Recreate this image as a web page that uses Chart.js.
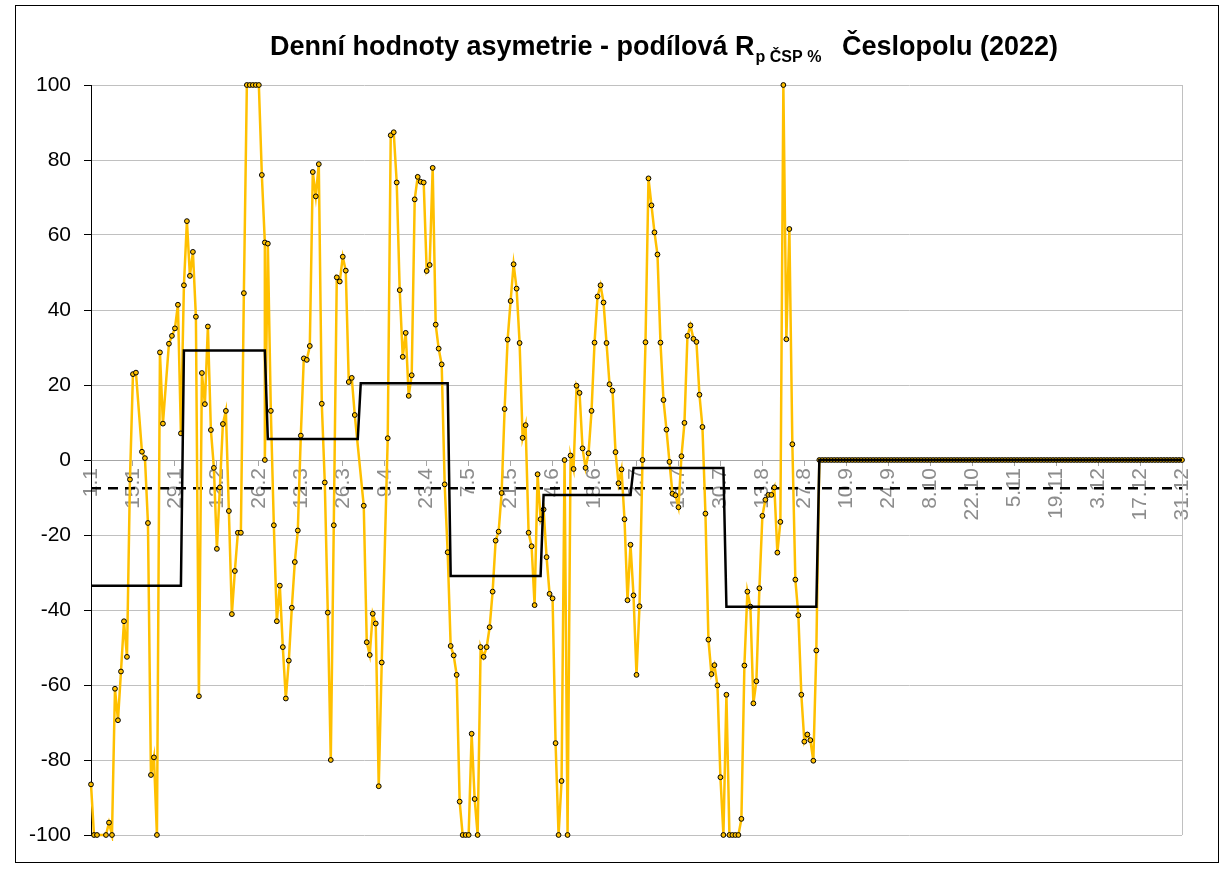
<!DOCTYPE html>
<html>
<head>
<meta charset="utf-8">
<script src="https://cdn.jsdelivr.net/npm/chart.js@4.4.0/dist/chart.umd.min.js"></script>
<style>
  html, body { margin: 0; padding: 0; background: #fff; }
  #wrap { width: 1225px; height: 870px; }
</style>
</head>
<body>
<div id="wrap"><canvas id="graf" width="1225" height="870"></canvas></div>
<script>
// denni hodnoty 2022 po mesicich (null = prazdna bunka, mezera v care)
const janVals = [-86.5, -100, -100, null, null, -100, -96.7, -100, -61, -69.4, -56.4, -43, -52.5, -5.2, 22.9, 23.3,
  null, 2.2, 0.5, -16.8, -84, -79.3, -100, 28.7, 9.7, null, 31, 33.1, 35.1, 41.4, 7.1];
const febVals = [46.6, 63.7, 49.1, 55.5, 38.2, -63, 23.2, 14.9, 35.6, 8, -2.1, -23.7, -7.3, 9.6, 13.1, -13.6,
  -41.1, -29.6, -19.4, -19.4, 44.5, 100, 100, 100, 100, 100, 76, 58];
const marVals = [57.7, 13.1, -17.4, -43, -33.5, -49.9, -63.6, -53.5, -39.4, -27.2, -18.8, 6.5, 27.1, 26.7, 30.4, 76.8,
  70.3, 78.9, 15, -6, -40.7, -80, -17.4, 48.7, 47.6, 54.2, 50.5, 20.8, 21.9, 12, null];
const aprVals = [null, -12.2, -48.6, -52, -41, -43.6, -87, -54, null, 5.8, 86.6, 87.4, 74, 45.3, 27.5, 33.9,
  17.1, 22.6, 69.5, 75.5, 74.2, 74, 50.4, 52, 77.9, 36.1, 29.7, 25.5, -6.5, -24.6];
const mayVals = [-49.6, -52.1, -57.3, -91.1, -100, -100, -100, -73, -90.4, -100, -49.9, -52.5, -49.9, -44.6, -35.1, -21.5,
  -19.1, -8.8, 13.6, 32.1, 42.4, 52.2, 45.7, 31.2, 5.9, 9.3, -19.4, -23, -38.7, -3.8, -15.8];
const junVals = [-13.2, -25.9, -35.7, -36.9, -75.5, -100, -85.6, 0, -100, 1.2, -2.4, 19.8, 17.9, 3.1, -2.1, 1.8,
  13.1, 31.3, 43.6, 46.6, 42, 31.2, 20.2, 18.5, 2.1, -6.2, -2.5, -15.8, -37.4, -22.6];
const julVals = [-36.1, -57.3, -39, 0, 31.4, 75.1, 67.9, 60.7, 54.8, 31.3, 16, 8.1, -0.5, -9, -9.4, -12.6,
  1, 9.9, 33.1, 35.9, 32.3, 31.5, 17.4, 8.8, -14.3, -47.9, -57.1, -54.7, -60.1, -84.6, -100];
const augVals = [-62.6, -100, -100, -100, -100, -95.7, -54.8, -35.1, -39.1, -64.9, -59, -34.2, -14.9, -10.6, -9.3, -9.3,
  -7.3, -24.7, -16.5, 100, 32.2, 61.6, 4.2, -31.9, -41.4, -62.6, -75.1, -73.2, -74.7, -80.2, -50.8];
const sepVals = [0, 0, 0, 0, 0, 0, 0, 0, 0, 0, 0, 0, 0, 0, 0, 0, 0, 0, 0, 0, 0, 0, 0, 0, 0, 0, 0, 0, 0, 0];
const octVals = [0, 0, 0, 0, 0, 0, 0, 0, 0, 0, 0, 0, 0, 0, 0, 0, 0, 0, 0, 0, 0, 0, 0, 0, 0, 0, 0, 0, 0, 0, 0];
const novVals = [0, 0, 0, 0, 0, 0, 0, 0, 0, 0, 0, 0, 0, 0, 0, 0, 0, 0, 0, 0, 0, 0, 0, 0, 0, 0, 0, 0, 0, 0];
const decVals = [0, 0, 0, 0, 0, 0, 0, 0, 0, 0, 0, 0, 0, 0, 0, 0, 0, 0, 0, 0, 0, 0, 0, 0, 0, 0, 0, 0, 0, 0, 0];

// chybejici radek (cara se spoji) a zdvojeny zaznam 28.2.
const joinDays = [98];
const dupDay = 58;
const dupVal = 0;

// mesicni prumery (schody) a rocni prumer (carkovane)
const monthMean = [-33.5, 29.2, 5.6, 20.5, -30.9, -9.3, -2.1, -39.1, 0, 0, 0, 0];
const yearMean = -7.5;

// popisky osy x (kazdy 14. den)
const tickLabels = ['1.1', '15.1', '29.1', '12.2', '26.2', '12.3', '26.3', '9.4', '23.4', '7.5', '21.5', '4.6',
  '18.6', '2.7', '16.7', '30.7', '13.8', '27.8', '10.9', '24.9', '8.10', '22.10', '5.11', '19.11', '3.12', '17.12', '31.12'];

const titleMain = 'Denní hodnoty asymetrie - podílová R';
const titleSub = 'p ČSP %';
const titleEnd = 'Česlopolu (2022)';

const months = [janVals, febVals, marVals, aprVals, mayVals, junVals, julVals, augVals, sepVals, octVals, novVals, decVals];
const dayVals = [].concat(...months);
const stepVals = [];
months.forEach((m, i) => m.forEach(() => stepVals.push(monthMean[i])));
const lastDay = dayVals.length - 1;

const dayPts = [];
dayVals.forEach((v, i) => {
  dayPts.push({ x: i, y: v });
  if (i === dupDay) dayPts.push({ x: i, y: dupVal });
});

// mezera jen u prazdnych bunek, ne u chybejiciho radku
function gapColor(ctx) {
  const a = dayPts[ctx.p0DataIndex].x, b = dayPts[ctx.p1DataIndex].x;
  if (b - a <= 1) return undefined;
  for (let d = a + 1; d < b; d++) if (!joinDays.includes(d)) return 'rgba(0,0,0,0)';
  return undefined;
}

const FONT = '"Liberation Sans", Arial, sans-serif';
Chart.defaults.font.family = FONT;

const ramecek = {
  id: 'ramecek',
  beforeDatasetsDraw(chart) {
    const { ctx, chartArea: a } = chart;
    ctx.save();
    ctx.strokeStyle = '#c0c0c0';
    ctx.lineWidth = 1;
    ctx.beginPath();
    ctx.moveTo(Math.round(a.right) + 0.5, a.top);
    ctx.lineTo(Math.round(a.right) + 0.5, a.bottom);
    ctx.stroke();
    ctx.restore();
  },
  afterDraw(chart) {
    const ctx = chart.ctx;
    ctx.save();
    ctx.strokeStyle = '#000';
    ctx.lineWidth = 1;
    ctx.strokeRect(15.5, 5.5, 1203, 857);

    // titulek s dolnim indexem
    ctx.fillStyle = '#000';
    ctx.textBaseline = 'alphabetic';
    ctx.textAlign = 'left';
    ctx.font = 'bold 27px ' + FONT;
    let x = 270;
    ctx.fillText(titleMain, x, 55);
    x += ctx.measureText(titleMain).width + 1;
    ctx.font = 'bold 16px ' + FONT;
    ctx.fillText(titleSub, x, 62);
    ctx.font = 'bold 27px ' + FONT;
    ctx.textAlign = 'right';
    ctx.fillText(titleEnd, 1058, 55);
    ctx.restore();
  }
};

new Chart(document.getElementById('graf'), {
  type: 'line',
  data: {
    datasets: [
      {
        data: dayPts,
        order: 1,
        borderColor: '#FFC000',
        borderWidth: 2.5,
        pointRadius: 2.4,
        pointBackgroundColor: '#FFC000',
        pointBorderColor: '#000',
        pointBorderWidth: 1,
        tension: 0,
        spanGaps: true,
        segment: { borderColor: gapColor },
        clip: 6
      },
      {
        data: stepVals.map((v, i) => ({ x: i, y: v })),
        order: 0,
        borderColor: '#000',
        borderWidth: 2.5,
        pointRadius: 0,
        tension: 0
      },
      {
        data: [{ x: 0, y: yearMean }, { x: lastDay, y: yearMean }],
        order: 2,
        borderColor: '#000',
        borderWidth: 2.5,
        borderDash: [10, 7],
        pointRadius: 0
      }
    ]
  },
  options: {
    responsive: false,
    animation: false,
    events: [],
    layout: { padding: { top: 85, right: 43, bottom: 35, left: 0 } },
    plugins: { legend: { display: false }, tooltip: { enabled: false }, title: { display: false } },
    scales: {
      x: {
        type: 'linear',
        position: { y: 0 },
        min: 0,
        max: lastDay,
        afterBuildTicks: s => { s.ticks = tickLabels.map((t, i) => ({ value: i * 14 })); },
        ticks: {
          autoSkip: false,
          minRotation: 90,
          maxRotation: 90,
          padding: 3,
          color: '#8c8c8c',
          font: { size: 21 },
          callback: v => tickLabels[Math.round(v / 14)]
        },
        grid: { drawOnChartArea: false, drawTicks: true, tickLength: 5, tickColor: '#a6a6a6' },
        border: { color: '#a6a6a6' }
      },
      y: {
        min: -100,
        max: 100,
        ticks: { stepSize: 20, color: '#000', font: { size: 21 }, padding: 13 },
        grid: { color: '#c0c0c0', tickColor: '#000', tickLength: 7 },
        border: { color: '#000' },
        afterFit: s => { s.width = 91; }
      }
    }
  },
  plugins: [ramecek]
});
</script>
</body>
</html>
